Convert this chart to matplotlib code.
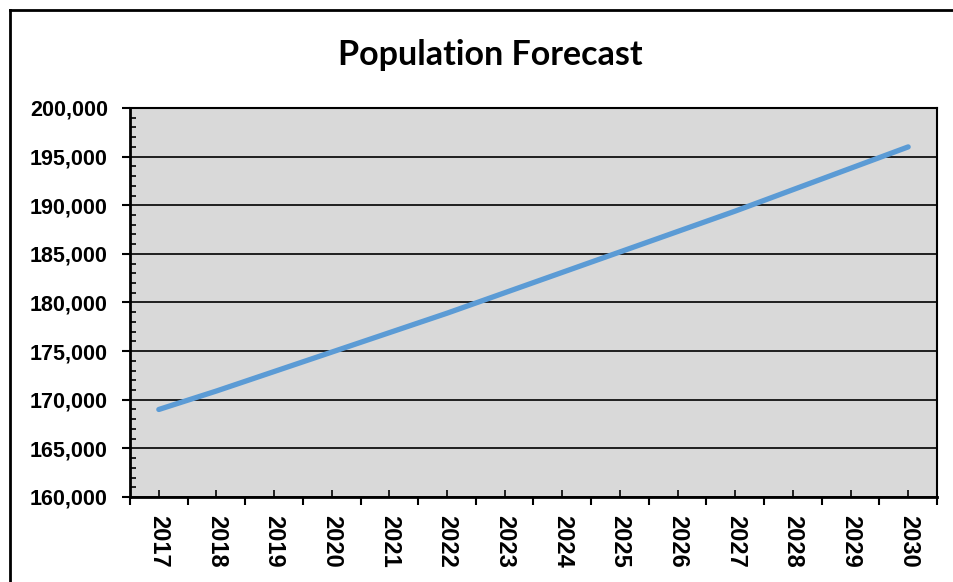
import matplotlib
matplotlib.use("Agg")
import matplotlib.pyplot as plt
from matplotlib.lines import Line2D
from matplotlib.ticker import FuncFormatter, MultipleLocator, FixedLocator

# data
years = [2017, 2018, 2019, 2020, 2021, 2022, 2023, 2024, 2025, 2026, 2027, 2028, 2029, 2030]
population = [169000, 170900, 172900, 174900, 176900, 178900, 181000,
              183100, 185200, 187300, 189400, 191600, 193800, 196000]

W, H = 954, 582
fig = plt.figure(figsize=(W / 100, H / 100), dpi=100)
ax = fig.add_axes([130 / W, (H - 497) / H, 807 / W, 389 / H])
ax.set_facecolor("#d9d9d9")

xpos = list(range(len(years)))
ax.plot(xpos, population, color="#5b9bd5", linewidth=3.8, solid_capstyle="round", zorder=3)

ax.set_xlim(-0.5, len(years) - 0.5)
ax.set_ylim(160000, 200000)

# y axis: major ticks out, minor ticks in
ax.yaxis.set_major_locator(MultipleLocator(5000))
ax.yaxis.set_minor_locator(MultipleLocator(1000))
ax.yaxis.set_major_formatter(FuncFormatter(lambda v, p: f"{int(v):,}"))
ax.tick_params(axis="y", which="major", direction="out", length=6, width=1.5, pad=10,
               labelsize=15.5, colors="black")
ax.tick_params(axis="y", which="minor", direction="in", length=4, width=1.2)
for lab in ax.get_yticklabels():
    lab.set_fontfamily("Liberation Sans")
    lab.set_fontweight("bold")

# x axis: category boundaries as major ticks (out), labels on the centres (minor, in)
ax.xaxis.set_major_locator(FixedLocator([i - 0.5 for i in range(len(years) + 1)]))
ax.xaxis.set_minor_locator(FixedLocator(xpos))
ax.set_xticklabels([])
ax.set_xticklabels([str(y) for y in years], minor=True, rotation=-90,
                   fontfamily="Liberation Sans", fontweight="bold", fontsize=17)
ax.tick_params(axis="x", which="major", direction="out", length=6, width=1.5)
ax.tick_params(axis="x", which="minor", direction="in", length=5, width=1.2, pad=13)

ax.grid(axis="y", which="major", color="black", linewidth=1.2, zorder=1)
ax.set_axisbelow(True)
for side in ["left", "bottom"]:
    ax.spines[side].set_linewidth(2)
for side in ["top", "right"]:
    ax.spines[side].set_linewidth(1.5)

fig.text(490 / W, 1 - 55 / H, "Population Forecast", ha="center", va="center",
         fontsize=24.5, fontweight="bold", fontfamily="Lato")

# outer chart frame
fig.add_artist(Line2D([10 / W, 10 / W], [0, 1 - 10 / H], color="black", linewidth=2))
fig.add_artist(Line2D([10 / W, 1], [1 - 10 / H, 1 - 10 / H], color="black", linewidth=2))

fig.savefig("out.png", dpi=100)
